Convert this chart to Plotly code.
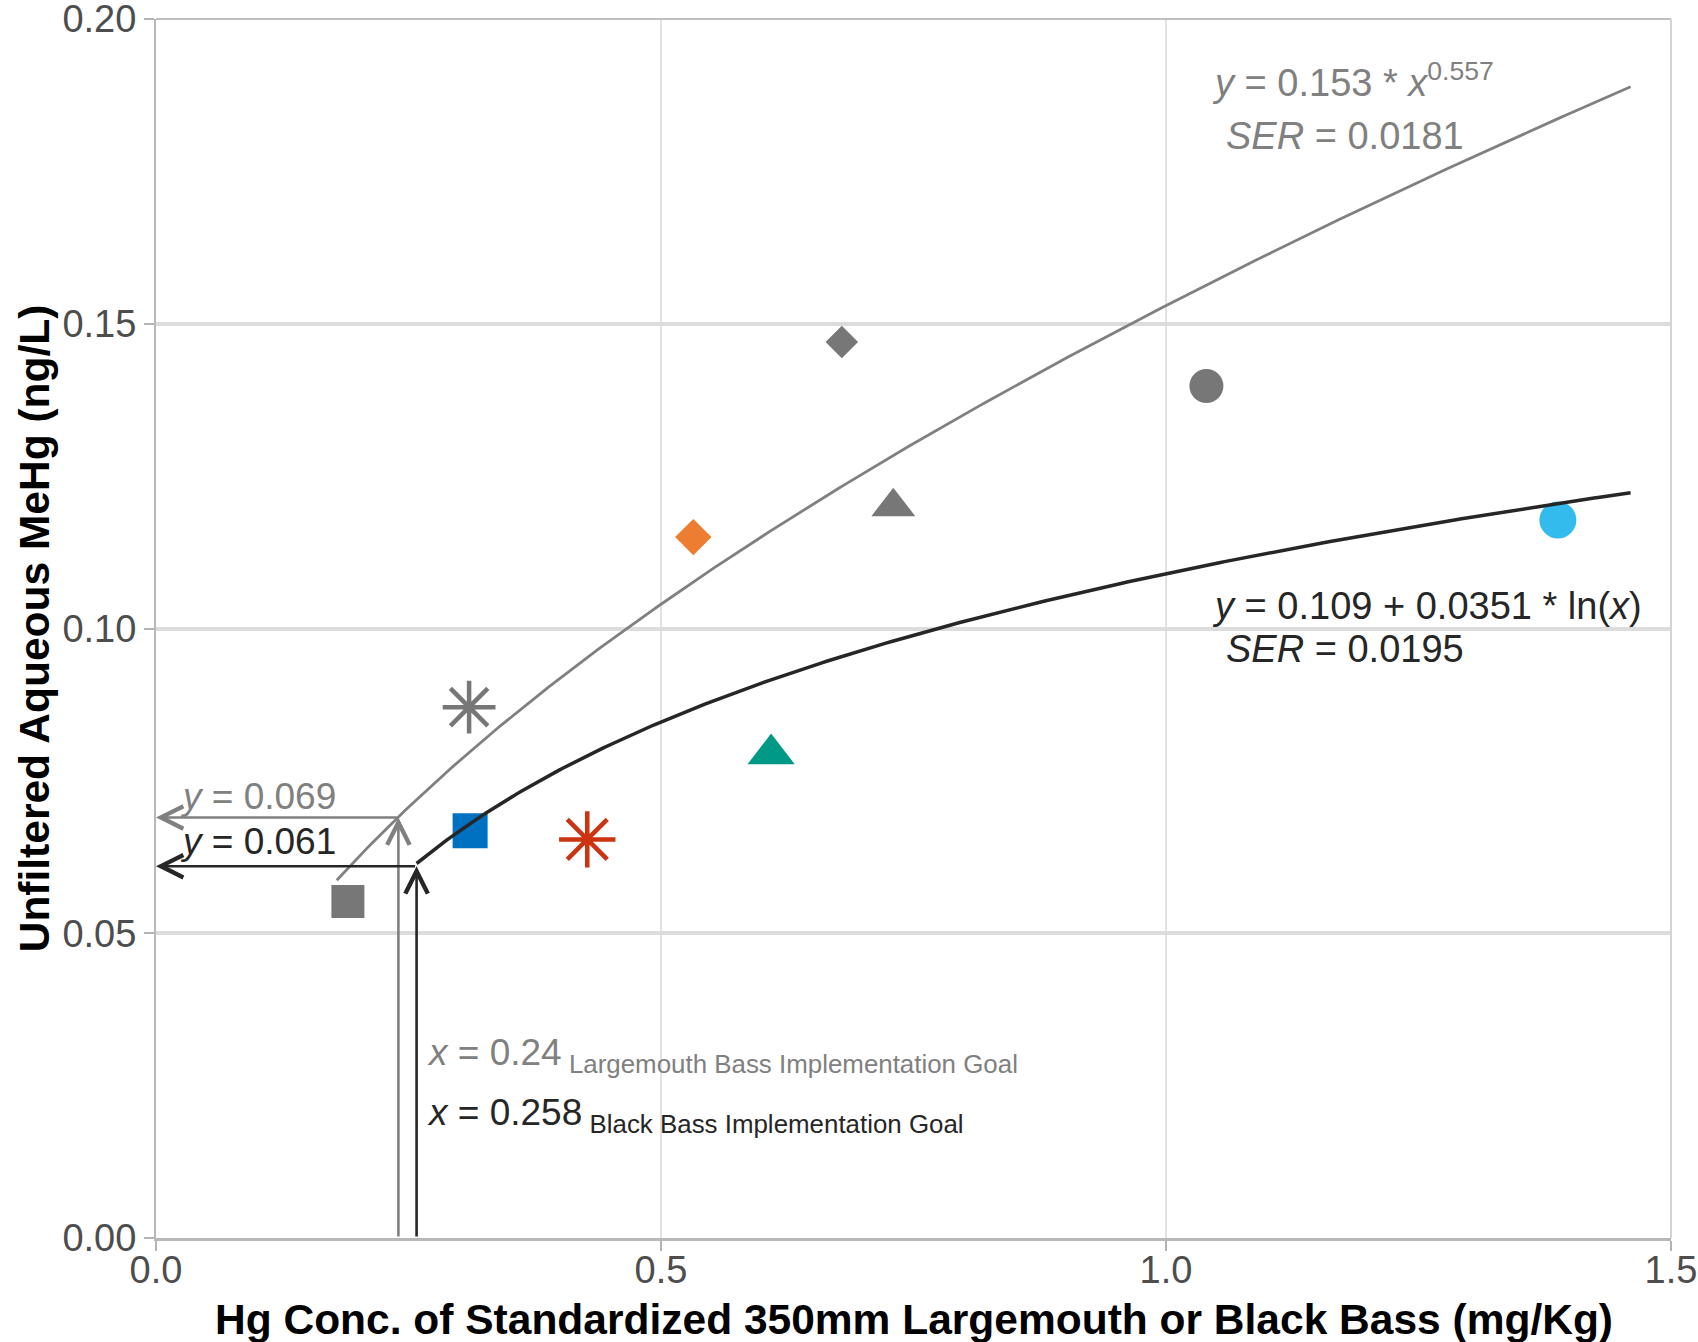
import numpy as np
import plotly.graph_objects as go

# ---------------- data ----------------
site_x = [0.190, 0.311, 0.310, 0.427, 0.532, 0.609, 0.679, 0.730, 1.040, 1.388]
site_y = [0.0552, 0.0668, 0.0871, 0.0654, 0.1150, 0.0794, 0.1470, 0.1200, 0.1398, 0.1178]

# power fit (largemouth bass): y = a * x^b
pow_a, pow_b, pow_ser = 0.153, 0.557, 0.0181
pow_xrange = [0.179, 1.46]
# log fit (black bass): y = c + d * ln(x)
log_c, log_d, log_ser = 0.109, 0.0351, 0.0195
log_xrange = [0.258, 1.46]

# implementation goals
lmb_goal_x, lmb_goal_y = 0.24, 0.069
bb_goal_x, bb_goal_y = 0.258, 0.061

x_ticks = [0.0, 0.5, 1.0, 1.5]
y_ticks = [0.00, 0.05, 0.10, 0.15, 0.20]

x_title = "Hg Conc. of Standardized 350mm Largemouth or Black Bass (mg/Kg)"
y_title = "Unfiltered Aqueous MeHg (ng/L)"

# ---------------- styles ----------------
GRAY = "#777777"
LINE_GRAY = "#808080"
LINE_BLACK = "#262626"
marker_style = [
    dict(symbol="square", color=GRAY, size=33),
    dict(symbol="square", color="#0070C0", size=35),
    dict(symbol="asterisk-open", color=GRAY, size=44),
    dict(symbol="asterisk-open", color="#CC3311", size=47),
    dict(symbol="diamond", color="#ED7D31", size=28),
    dict(symbol="triangle-up", color="#009988", size=41),
    dict(symbol="diamond", color=GRAY, size=25),
    dict(symbol="triangle-up", color=GRAY, size=38),
    dict(symbol="circle", color=GRAY, size=34),
    dict(symbol="circle", color="#33BBEE", size=37),
]
FONT = "Liberation Sans, Arial, sans-serif"

fig = go.Figure()

for xv, yv, st in zip(site_x, site_y, marker_style):
    if st["symbol"].startswith("asterisk"):
        mk = dict(symbol=st["symbol"], size=st["size"],
                  line=dict(color=st["color"], width=4.5), color=st["color"])
    else:
        mk = dict(symbol=st["symbol"], size=st["size"], color=st["color"],
                  line=dict(width=0))
    fig.add_trace(go.Scatter(x=[xv], y=[yv], mode="markers", marker=mk,
                             showlegend=False, hoverinfo="skip"))

# fitted curves (from the equations printed on the chart)
xp = np.linspace(pow_xrange[0], pow_xrange[1], 300)
fig.add_trace(go.Scatter(x=xp, y=pow_a * xp ** pow_b, mode="lines",
                         line=dict(color=LINE_GRAY, width=2.8),
                         showlegend=False, hoverinfo="skip"))
xl = np.linspace(log_xrange[0], log_xrange[1], 300)
fig.add_trace(go.Scatter(x=xl, y=log_c + log_d * np.log(xl), mode="lines",
                         line=dict(color=LINE_BLACK, width=3.5),
                         showlegend=False, hoverinfo="skip"))

annotations = []

def arrow(hx, hy, tx, ty, color):
    annotations.append(dict(
        x=hx, y=hy, ax=tx, ay=ty, xref="x", yref="y", axref="x", ayref="y",
        text="", showarrow=True, arrowhead=5, arrowsize=1.7, arrowwidth=2.6,
        arrowcolor=color, standoff=0, startstandoff=0))

# goal arrows: vertical up to the curve, horizontal left to the y-axis
arrow(lmb_goal_x, lmb_goal_y, lmb_goal_x, 0, LINE_GRAY)
arrow(0, lmb_goal_y, lmb_goal_x, lmb_goal_y, LINE_GRAY)
arrow(bb_goal_x, bb_goal_y, bb_goal_x, 0, LINE_BLACK)
arrow(0, bb_goal_y, bb_goal_x, bb_goal_y, LINE_BLACK)

def label(x, y, text, color, size=37):
    annotations.append(dict(
        x=x, y=y, xref="x", yref="y", text=text, showarrow=False,
        xanchor="left", yanchor="middle",
        font=dict(family=FONT, size=size, color=color)))

label(0.022, 0.0725, f"<i>y</i> = {lmb_goal_y:.3f}", LINE_GRAY)
label(0.022, 0.0650, f"<i>y</i> = {bb_goal_y:.3f}", LINE_BLACK)
label(0.266, 0.0300,
      f"<i>x</i> = {lmb_goal_x:g}<sub> Largemouth Bass Implementation Goal</sub>",
      LINE_GRAY)
label(0.266, 0.0202,
      f"<i>x</i> = {bb_goal_x:g}<sub> Black Bass Implementation Goal</sub>",
      LINE_BLACK)
label(1.044, 0.1900,
      f"<i>y</i> = {pow_a:g} * <i>x</i><sup>{pow_b:g}</sup>", LINE_GRAY, 38)
label(1.0575, 0.1808, f"<i>SER</i> = {pow_ser:g}", LINE_GRAY, 38)
label(1.044, 0.1037,
      f"<i>y</i> = {log_c:g} + {log_d:g} * ln(<i>x</i>)", LINE_BLACK, 38)
label(1.0575, 0.0967, f"<i>SER</i> = {log_ser:g}", LINE_BLACK, 38)

# axis titles
annotations.append(dict(
    x=0.5, y=-0.0665, xref="paper", yref="paper", text=f"<b>{x_title}</b>",
    showarrow=False, xanchor="center", yanchor="middle",
    font=dict(family=FONT, size=42.5, color="black")))
annotations.append(dict(
    x=-0.080, y=0.5, xref="paper", yref="paper", text=f"<b>{y_title}</b>",
    showarrow=False, xanchor="center", yanchor="middle", textangle=-90,
    font=dict(family=FONT, size=42.5, color="black")))

fig.update_layout(
    width=1698, height=1342,
    margin=dict(l=156, r=27, t=19, b=104),
    paper_bgcolor="white", plot_bgcolor="white",
    annotations=annotations,
    shapes=[
        dict(type="line", xref="paper", yref="paper", x0=0, x1=1, y0=1, y1=1,
             line=dict(color="#c0c0c0", width=2), layer="above"),
        dict(type="line", xref="paper", yref="paper", x0=1, x1=1, y0=0, y1=1,
             line=dict(color="#d4d4d4", width=2), layer="above"),
    ],
    xaxis=dict(
        range=[0, 1.5], tickvals=x_ticks, ticktext=[f"{v:.1f}" for v in x_ticks],
        showgrid=True, gridcolor="#e2e2e2", gridwidth=1.5, zeroline=False,
        showline=True, linecolor="#b8b8b8", linewidth=3,
        ticks="outside", ticklen=10, tickwidth=2, tickcolor="#b3b3b3",
        ticklabelstandoff=-14, ticklabeloverflow="allow",
        tickfont=dict(family=FONT, size=38, color="#4d4d4d"),
        automargin=False,
    ),
    yaxis=dict(
        range=[0, 0.20001], tickvals=y_ticks, ticktext=[f"{v:.2f}" for v in y_ticks],
        showgrid=True, gridcolor="#dcdcdc", gridwidth=4, zeroline=False,
        showline=True, linecolor="#b8b8b8", linewidth=2,
        ticks="outside", ticklen=10, tickwidth=2, tickcolor="#b3b3b3",
        ticklabeloverflow="allow",
        tickfont=dict(family=FONT, size=38, color="#4d4d4d"),
        automargin=False,
    ),
)

fig.write_html(
    "out.html",
    config={"displayModeBar": False},
    post_script="document.body.style.margin='0';document.body.style.overflow='hidden';",
)
